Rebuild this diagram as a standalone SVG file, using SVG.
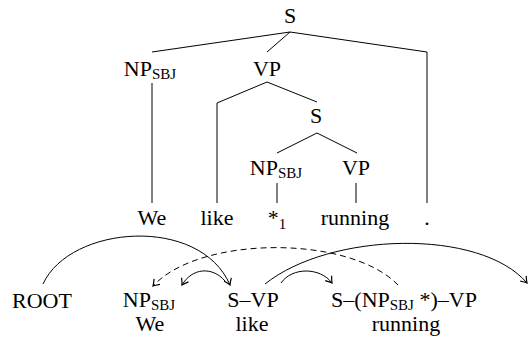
<svg xmlns="http://www.w3.org/2000/svg" width="529" height="338" viewBox="0 0 529 338">
<style>
text{font-family:"Liberation Serif","Times New Roman",serif;font-size:22px;fill:#000;text-anchor:middle}
.sub{font-size:15px}
.e{fill:none;stroke:#000;stroke-width:1}
.d{stroke-dasharray:6,4}
</style>
<defs>
<marker id="ah" markerUnits="userSpaceOnUse" markerWidth="12" markerHeight="12" viewBox="-7 -6 8 12" refX="0" refY="0" orient="auto">
<path d="M-6,-4 Q-2,-1 0,0 Q-2,1 -6,4" fill="none" stroke="#000" stroke-width="1.2"/>
</marker>
</defs>
<rect width="529" height="338" fill="#fff"/>
<g id="tree-edges" class="connectors">
<path class="e" d="M290,32 L152,52 M290,32 L267,52 M290,32 L427,52 L427,203 M152,83 L152,203 M267,82 L217,103 L217,203 M267,82 L317,102 M317,133 L277,153 M317,133 L357,153 M277,183 L277,203 M356,183 L356,203"/>
</g>
<g id="t-S"><text x="290" y="23">S</text></g>
<g id="t-NPSBJ"><text x="150" y="76">NP<tspan class="sub" dy="3">SBJ</tspan></text></g>
<g id="t-VP"><text x="267" y="76">VP</text></g>
<g id="t-S2"><text x="316" y="123">S</text></g>
<g id="t-NPSBJ2"><text x="276" y="175">NP<tspan class="sub" dy="3">SBJ</tspan></text></g>
<g id="t-VP2"><text x="356" y="175">VP</text></g>
<g id="w-We"><text x="152" y="225">We</text></g>
<g id="w-like"><text x="217" y="225">like</text></g>
<g id="w-star"><text x="277" y="225">*<tspan class="sub" dy="4">1</tspan></text></g>
<g id="w-running"><text x="355" y="225">running</text></g>
<g id="w-dot"><text x="427" y="225">.</text></g>
<g id="d-ROOT"><text x="42" y="308">ROOT</text></g>
<g id="d-NP"><text x="149" y="307">NP<tspan class="sub" dy="3">SBJ</tspan></text><text x="150" y="331">We</text></g>
<g id="d-SVP"><text x="253" y="307">S–VP</text><text x="252" y="331">like</text></g>
<g id="d-S3"><text x="404" y="307">S–(NP<tspan class="sub" dy="3">SBJ</tspan><tspan dy="-3"> *)–VP</tspan></text><text x="406" y="331">running</text></g>
<g id="dep-edges" class="connectors">
<path class="e" d="M43,284 C70,225 200,215 230,285" marker-end="url(#ah)"/>
<path class="e" d="M225,281 C212,266 192,268 182,285" marker-end="url(#ah)"/>
<path class="e d" d="M398,285 C350,235 200,235 153,286" marker-end="url(#ah)"/>
<path class="e" d="M265,284 C330,232 480,228 527,283" marker-end="url(#ah)"/>
<path class="e" d="M281,283 C292,267 320,267 332,283" marker-end="url(#ah)"/>
</g>
</svg>
